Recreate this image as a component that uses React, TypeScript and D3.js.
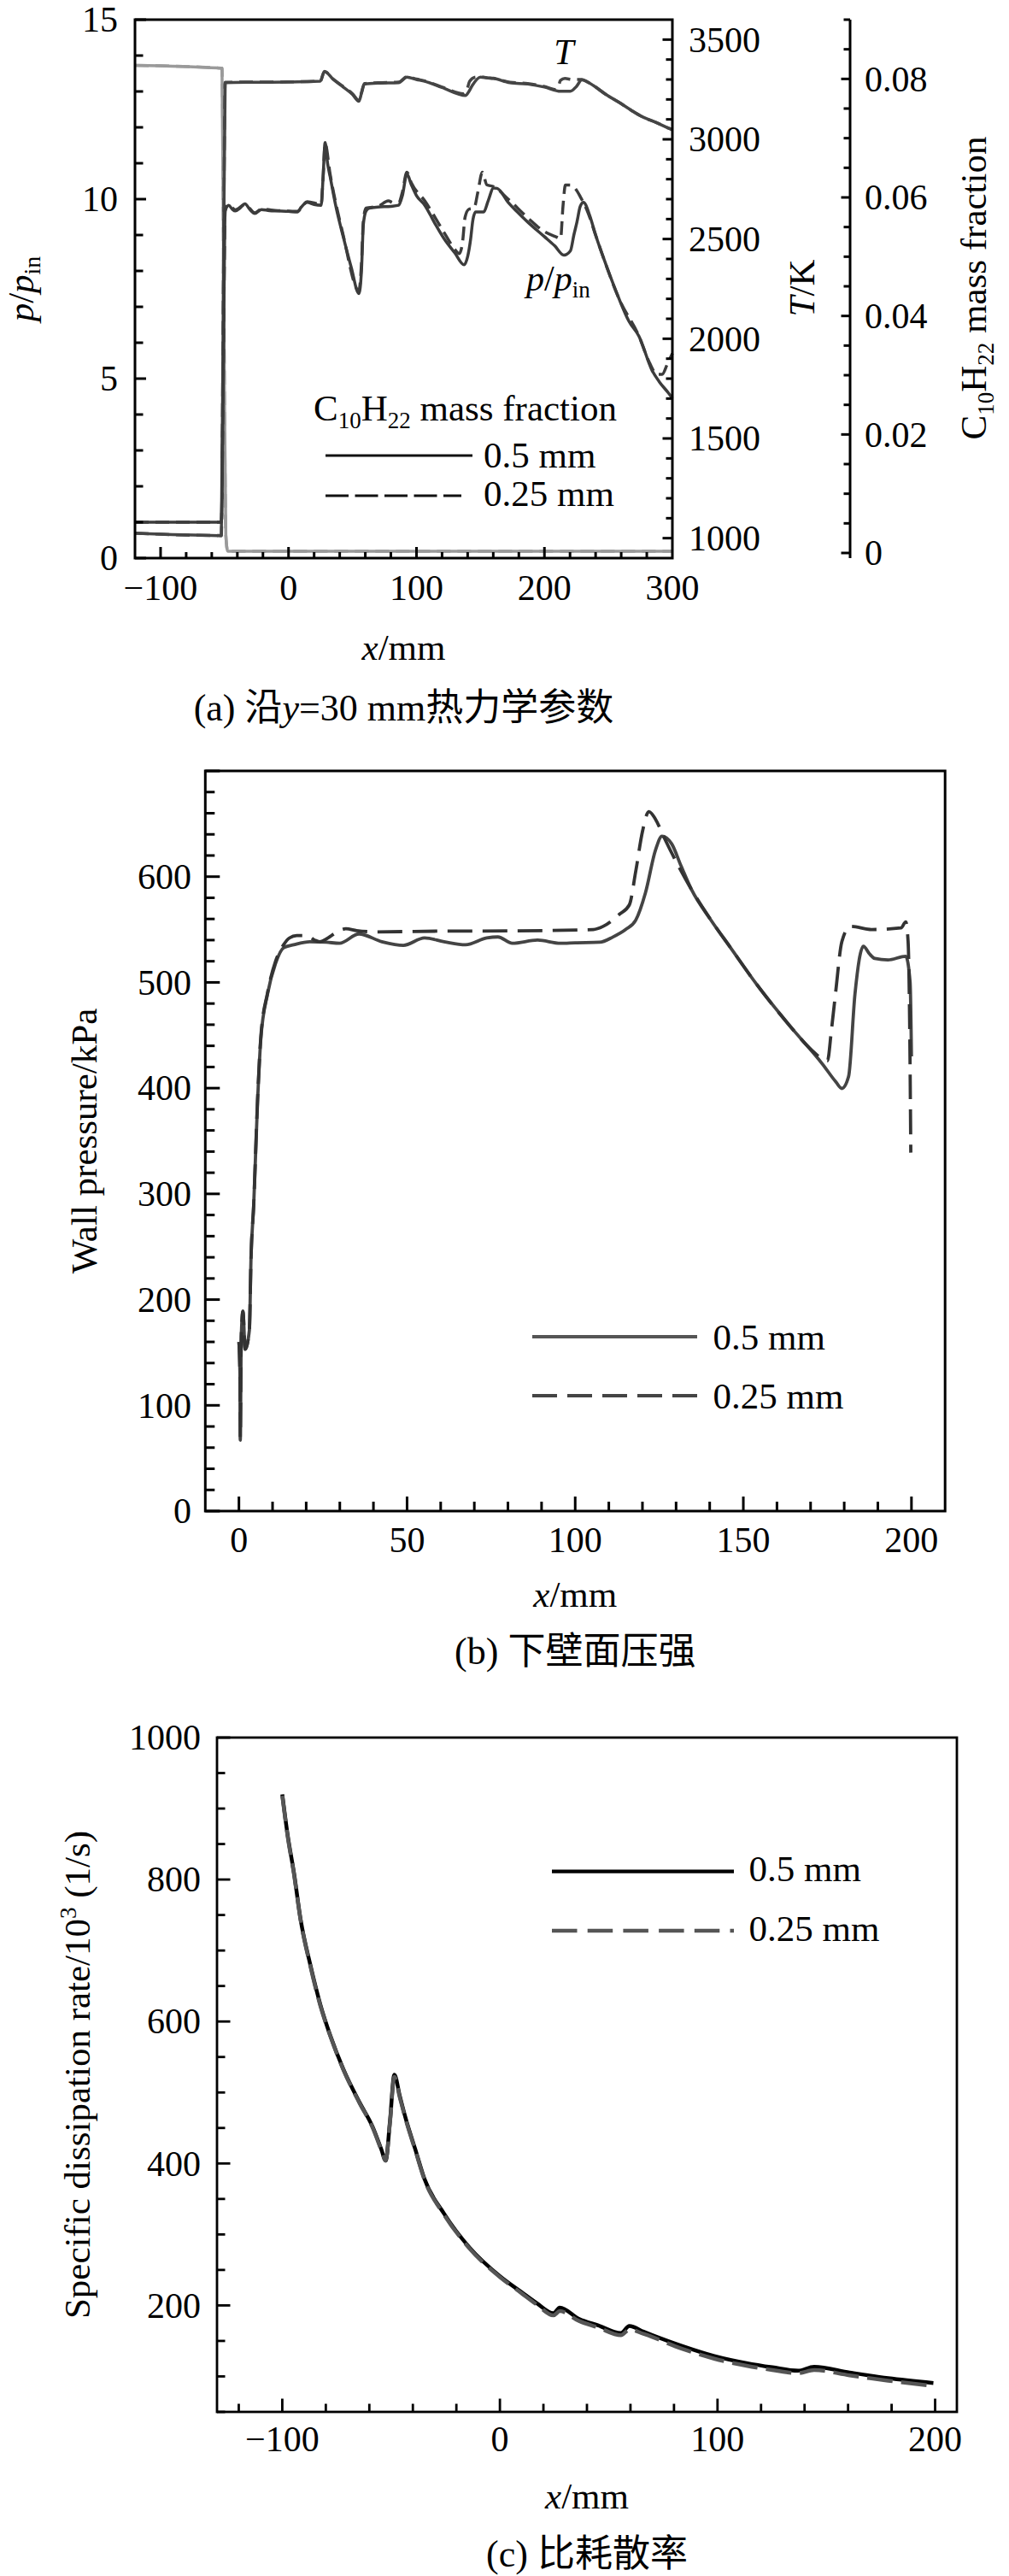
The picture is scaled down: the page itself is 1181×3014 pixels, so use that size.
import React from 'react';
import * as d3 from 'd3';

type Pt = [number, number];

const SERIF = "'Liberation Serif','Times New Roman',Times,serif";
const CAPF = "'Liberation Serif','Noto Sans CJK SC',serif";

// ---------- Panel (a): along y = 30 mm ----------
const aPressureSolid: Pt[] = [
  [-120, 1.0], [-52.5, 1.0], [-51, 5], [-49.5, 9.67], [-46.8, 9.83], [-44, 9.72], [-41.6, 9.67], [-38, 9.75],
  [-34, 9.87], [-30, 9.7], [-26.3, 9.6], [-21.2, 9.71], [-15, 9.68], [-8.4, 9.67], [0, 9.66], [6.9, 9.64],
  [10, 9.78], [14.6, 9.91], [20, 9.85], [25.5, 9.83], [27, 10.6], [28.6, 11.58], [30.5, 11.0], [32.5, 10.63],
  [37, 9.8], [42.7, 8.96], [49, 8.1], [55, 7.37], [57, 8.0], [58.5, 9.3], [60.6, 9.67], [63.1, 9.75], [70, 9.78],
  [80, 9.8], [86.1, 9.83], [89, 10.1], [92.5, 10.7], [96, 10.4], [100, 10.1], [106.5, 9.83], [114, 9.35],
  [121.9, 8.88], [130, 8.5], [137.2, 8.17], [140, 8.4], [142.3, 8.88], [144, 9.4], [146.2, 9.64], [152.5, 9.64],
  [156, 9.95], [160.2, 10.31], [163, 10.3], [171.7, 9.91], [180, 9.6], [187, 9.36], [199.8, 8.96], [208, 8.7],
  [215.2, 8.44], [220.3, 8.56], [223, 9.0], [225.4, 9.36], [228, 9.8], [230.5, 9.91], [235.6, 9.52], [240, 9.0],
  [245.8, 8.4], [252, 7.8], [258.6, 7.2], [266, 6.6], [273.9, 6.18], [284.1, 5.23], [290, 4.9], [296.9, 4.6], [300, 4.45],
];
const aPressureDashed: Pt[] = [
  [-120, 1.0], [-52.5, 1.0], [-51, 5], [-49.5, 9.7], [-46.8, 9.85], [-41.6, 9.7], [-34, 9.85], [-26.3, 9.62],
  [-21.2, 9.72], [-8.4, 9.68], [6.9, 9.66], [14.6, 9.93], [25.5, 9.86], [27, 10.6], [28.6, 11.55], [32.5, 10.7],
  [42.7, 9.0], [55, 7.45], [57, 8.2], [58.5, 9.4], [60.6, 9.75], [70, 9.8], [78, 9.95], [82, 9.9], [86.1, 9.9],
  [89, 10.2], [92.5, 10.75], [96, 10.45], [106.5, 9.95], [121.9, 9.05], [130, 8.6], [133.4, 8.48], [136, 8.8],
  [138, 9.5], [141, 9.72], [145, 9.75], [148, 10.2], [151.5, 10.75], [155, 10.4], [160.2, 10.35], [171.7, 10.0],
  [187, 9.48], [199.8, 9.1], [209, 8.95], [212.6, 8.9], [214.5, 9.8], [216.4, 10.39], [220, 10.39], [224, 10.3],
  [228, 10.07], [234.3, 9.6], [240, 9.0], [245.8, 8.4], [258.6, 7.2], [273.9, 6.18], [282, 5.45], [288, 5.12],
  [292, 5.12], [296, 5.4], [300, 5.7],
];
const aTempSolid: Pt[] = [
  [-120, 1025], [-52.5, 1013], [-51, 2200], [-49.5, 3284], [-30, 3286], [0, 3287], [24.8, 3291], [28.1, 3341],
  [35, 3300], [42.7, 3262], [50, 3225], [55, 3191], [57, 3230], [59.3, 3277], [70, 3282], [86.1, 3284], [92.5, 3312],
  [100, 3300], [106.5, 3291], [120, 3260], [138.5, 3220], [141, 3240], [143.6, 3270], [150, 3312], [155, 3308],
  [160.2, 3305], [173, 3284], [187, 3277], [200, 3262], [212.6, 3241], [220.3, 3241], [225, 3265], [229.2, 3298],
  [233, 3290], [238.2, 3270], [248, 3225], [258.6, 3184], [268, 3145], [276.5, 3113], [287, 3085], [296.9, 3056], [300, 3048],
];
const aTempDashed: Pt[] = [
  [-120, 1025], [-52.5, 1013], [-51, 2200], [-49.5, 3286], [-30, 3287], [0, 3288], [24.8, 3292], [28.1, 3340],
  [35, 3302], [42.7, 3265], [50, 3228], [55, 3195], [57, 3235], [59.3, 3280], [70, 3284], [86.1, 3287], [92.5, 3314],
  [100, 3302], [106.5, 3293], [120, 3262], [137, 3228], [139.5, 3250], [141.5, 3290], [146, 3312], [150, 3314],
  [155, 3309], [160.2, 3306], [173, 3286], [187, 3280], [200, 3265], [208, 3250], [210.5, 3258], [212.5, 3295],
  [216, 3305], [222, 3300], [229.2, 3300], [233, 3290], [238.2, 3270], [248, 3225], [258.6, 3184], [268, 3145],
  [276.5, 3113], [287, 3085], [296.9, 3056], [300, 3048],
];
const aFuelSolid: Pt[] = [
  [-120, 0.0823], [-52, 0.0818], [-50.5, 0.04], [-49, 0.003], [-47.5, 0.0003], [300, 0.0003],
];
const aFuelDashed: Pt[] = [
  [-120, 0.0823], [-52, 0.0818], [-50.5, 0.04], [-49, 0.003], [-47.5, 0.0003], [300, 0.0003],
];
const aXTickLabels = [-100, 0, 100, 200, 300];
const aPTickLabels = [0, 5, 10, 15];
const aTTickLabels = [1000, 1500, 2000, 2500, 3000, 3500];
const aFuelTickLabels = [0, 0.02, 0.04, 0.06, 0.08];

// ---------- Panel (b): lower wall pressure ----------
const bWallSolid: Pt[] = [
  [0, 160], [0.3, 130], [0.4, 67], [0.7, 165], [1.2, 189], [1.85, 153], [3.1, 171], [3.6, 240], [4.4, 290],
  [5.55, 388], [6.5, 446], [8.5, 489], [10.9, 518], [13.3, 532.8], [16.3, 535.6], [21.1, 538.5], [26, 538],
  [29.9, 537], [35.7, 545.8], [42.5, 538.5], [48.9, 535], [55.2, 542], [61, 538.5], [67.4, 535.6], [73.7, 542],
  [77, 543], [81.3, 537], [88.8, 540], [95.6, 537], [100, 537.5], [107.3, 538], [111.2, 542.9], [115, 550],
  [118, 558.8], [120.9, 584.8], [123.9, 625.3], [125.8, 638.3], [128.7, 631], [131.5, 610], [134.6, 587.7],
  [140.4, 558.8], [146.2, 532.8], [154, 498], [163.8, 459], [173.5, 422.9], [177.5, 406], [179.3, 399.7],
  [181.3, 411], [183.2, 489], [185.7, 534.2], [187.5, 527], [189.1, 522.6], [193, 521.2], [198.3, 524.7],
  [199.6, 500], [200, 430],
];
const bWallDashed: Pt[] = [
  [0, 160], [0.3, 130], [0.4, 70], [0.7, 165], [1.2, 189], [1.85, 153], [3.1, 171], [3.6, 240], [4.4, 290],
  [5.55, 390], [6.5, 448], [8.5, 490], [10.9, 520], [13.3, 535.6], [15, 542], [17.2, 544.3], [20.2, 544.3],
  [22.5, 540], [24, 538.5], [26.5, 542], [28.9, 547.2], [31.8, 550.7], [35, 549], [40.6, 547.8], [60, 548.5],
  [81.3, 548.7], [105.4, 550], [108.3, 553], [113.2, 564.6], [116.1, 573.3], [118, 605], [120, 642.6],
  [121.9, 661.5], [123.9, 654.2], [126.3, 638], [128.7, 622.4], [134.6, 587.7], [140.4, 558.8], [146.2, 532.8],
  [154, 498], [163.8, 459], [170, 437], [175, 425.8], [176.2, 455], [177.4, 489], [179.3, 538.5], [181.8, 553],
  [188.1, 550], [196.9, 551.5], [198.3, 557.3], [199, 538.5], [199.5, 450], [199.8, 339],
];
const bXTickLabels = [0, 50, 100, 150, 200];
const bYTickLabels = [0, 100, 200, 300, 400, 500, 600];

// ---------- Panel (c): specific dissipation rate ----------
const cOmegaSolid: Pt[] = [
  [-100, 920], [-97.6, 864], [-94.6, 808.6], [-91.6, 744], [-87.1, 679.6], [-82.5, 623.7], [-78, 580.7],
  [-72, 533.4], [-64.5, 486], [-58.5, 451.7], [-54.5, 420], [-52.5, 404], [-50.5, 460], [-48.5, 525], [-46, 495],
  [-43.4, 464.6], [-38.9, 420], [-34.6, 377.7], [-25.7, 329.5], [-13.9, 281.3], [0, 241.2], [9.8, 219], [17, 203],
  [24.6, 189], [27.5, 197], [36.4, 181], [45, 172], [55.6, 161], [59.5, 171], [66, 163], [83.7, 143], [98.5, 128.8],
  [113.3, 118.8], [125.2, 112.8], [137, 108], [144.4, 113.6], [160.7, 105.5], [178.4, 97.5], [199.2, 90.7],
];
const cOmegaDashed: Pt[] = [
  [-100, 918], [-97.6, 862], [-94.6, 807], [-91.6, 743], [-87.1, 678], [-82.5, 622], [-78, 580], [-72, 532.5],
  [-64.5, 485], [-58.5, 450.5], [-54.5, 419], [-52.5, 404], [-50.5, 458], [-48.5, 522], [-46, 493], [-43.4, 463],
  [-38.9, 418.5], [-34.6, 376.5], [-25.7, 328], [-13.9, 280], [0, 240], [9.8, 217.5], [17, 201], [24.6, 186],
  [27.5, 192], [36.4, 178], [45, 169], [55.6, 158], [59.5, 166], [66, 160], [83.7, 139], [98.5, 125], [113.3, 115],
  [125.2, 109], [137, 104.5], [144.4, 109], [160.7, 101.5], [178.4, 94], [199.2, 86.5],
];
const cXTickLabels = [-100, 0, 100, 200];
const cYTickLabels = [200, 400, 600, 800, 1000];

const legendLabels = ['0.5 mm', '0.25 mm'];

const fmtMinus = (v: number) => (v < 0 ? '\u2212' + Math.abs(v) : String(v));

function Curve({ data, x, y, stroke, width, dash }: {
  data: Pt[]; x: d3.ScaleLinear<number, number>; y: d3.ScaleLinear<number, number>;
  stroke: string; width: number; dash?: string;
}) {
  const line = d3.line<Pt>().x(d => x(d[0])).y(d => y(d[1])).curve(d3.curveMonotoneX);
  return (
    <path d={line(data) || ''} fill="none" stroke={stroke} strokeWidth={width}
      strokeDasharray={dash} strokeLinejoin="round" strokeLinecap="butt" />
  );
}

function PanelA() {
  const x = d3.scaleLinear().domain([-120, 300]).range([158, 787]);
  const p = d3.scaleLinear().domain([0, 15]).range([653, 23]);
  const t = d3.scaleLinear().domain([900, 3600]).range([653, 23]);
  const m = d3.scaleLinear().domain([0, 0.09]).range([647, 23]);
  const [x0, x1] = x.range();
  const [yb, yt] = p.range();
  const fs = 42;
  return (
    <g fontFamily={SERIF} fill="#000">
      <Curve data={aFuelSolid} x={x} y={m} stroke="#9a9a9a" width={3.5} />
      <Curve data={aFuelDashed} x={x} y={m} stroke="#9a9a9a" width={3.5} dash="16,8" />
      <Curve data={aTempSolid} x={x} y={t} stroke="#454545" width={3.5} />
      <Curve data={aTempDashed} x={x} y={t} stroke="#454545" width={3.5} dash="16,8" />
      <Curve data={aPressureSolid} x={x} y={p} stroke="#3c3c3c" width={3.5} />
      <Curve data={aPressureDashed} x={x} y={p} stroke="#3c3c3c" width={3.5} dash="16,8" />

      <rect x={x0} y={yt} width={x1 - x0} height={yb - yt} fill="none" stroke="#000" strokeWidth={3} />
      {d3.range(0, 16).map(v => (
        <line key={'pt' + v} x1={x0} x2={x0 + (v % 5 === 0 ? 13 : 9.5)} y1={p(v)} y2={p(v)} stroke="#000" strokeWidth={3} />
      ))}
      {aPTickLabels.map(v => (
        <text key={'pl' + v} x={138} y={p(v)} dy="0.34em" textAnchor="end" fontSize={fs}>{v}</text>
      ))}
      {d3.range(-100, 300, 20).map(v => (
        <line key={'xt' + v} x1={x(v)} x2={x(v)} y1={yb} y2={yb - (v % 100 === 0 ? 13 : 7)} stroke="#000" strokeWidth={3} />
      ))}
      {aXTickLabels.map(v => (
        <text key={'xl' + v} x={x(v)} y={702} textAnchor="middle" fontSize={fs}>{fmtMinus(v)}</text>
      ))}
      {d3.range(1000, 3501, 100).map(v => (
        <line key={'tt' + v} x1={x1} x2={x1 - (v % 500 === 0 ? 11.5 : 7.5)} y1={t(v)} y2={t(v)} stroke="#000" strokeWidth={3} />
      ))}
      {aTTickLabels.map(v => (
        <text key={'tl' + v} x={806} y={t(v)} dy="0.34em" textAnchor="start" fontSize={fs}>{v}</text>
      ))}
      <line x1={995} x2={995} y1={yt} y2={yb} stroke="#000" strokeWidth={3} />
      {d3.range(0, 19).map(i => (
        <line key={'mt' + i} x1={995} x2={995 - (i % 4 === 0 ? 10.5 : 7.5)} y1={m(i * 0.005)} y2={m(i * 0.005)} stroke="#000" strokeWidth={3} />
      ))}
      {aFuelTickLabels.map(v => (
        <text key={'ml' + v} x={1012} y={m(v)} dy="0.34em" textAnchor="start" fontSize={fs}>{String(v)}</text>
      ))}

      {/* axis titles */}
      <text transform="translate(39,338) rotate(-90)" textAnchor="middle" fontSize={43}>
        <tspan fontStyle="italic">p</tspan>/<tspan fontStyle="italic">p</tspan>
        <tspan fontSize={28} dy={8}>in</tspan>
      </text>
      <text transform="translate(953,337) rotate(-90)" textAnchor="middle" fontSize={43}>
        <tspan fontStyle="italic">T</tspan>/K
      </text>
      <text transform="translate(1154,337) rotate(-90)" textAnchor="middle" fontSize={43}>
        C<tspan fontSize={27} dy={9}>10</tspan><tspan dy={-9}>H</tspan><tspan fontSize={27} dy={9}>22</tspan>
        <tspan dy={-9}>{' mass fraction'}</tspan>
      </text>

      {/* in-plot annotations */}
      <text x={660} y={75} textAnchor="middle" fontSize={42} fontStyle="italic">T</text>
      <text x={616} y={340} fontSize={42}>
        <tspan fontStyle="italic">p</tspan>/<tspan fontStyle="italic">p</tspan>
        <tspan fontSize={27} dy={8}>in</tspan>
      </text>

      {/* legend */}
      <text x={367} y={492} fontSize={43}>
        C<tspan fontSize={27} dy={9}>10</tspan><tspan dy={-9}>H</tspan><tspan fontSize={27} dy={9}>22</tspan>
        <tspan dy={-9}>{' mass fraction'}</tspan>
      </text>
      <line x1={381} x2={553} y1={533} y2={533} stroke="#111" strokeWidth={2.8} />
      <text x={566} y={547} fontSize={43}>{legendLabels[0]}</text>
      <line x1={381} x2={540} y1={580} y2={580} stroke="#111" strokeWidth={2.8} strokeDasharray="27,7.5" />
      <text x={566} y={592} fontSize={43}>{legendLabels[1]}</text>

      <text x={(x0 + x1) / 2} y={772} textAnchor="middle" fontSize={43}>
        <tspan fontStyle="italic">x</tspan>/mm
      </text>
      <text x={(x0 + x1) / 2} y={843} textAnchor="middle" fontSize={44} fontFamily={CAPF}>
        (a) 沿<tspan fontStyle="italic">y</tspan>=30 mm热力学参数
      </text>
    </g>
  );
}

function PanelB() {
  const x = d3.scaleLinear().domain([-10, 210]).range([240.3, 1106.2]);
  const y = d3.scaleLinear().domain([0, 700]).range([1768, 902]);
  const [x0, x1] = x.range();
  const [yb, yt] = y.range();
  const fs = 42;
  return (
    <g fontFamily={SERIF} fill="#000">
      <Curve data={bWallSolid} x={x} y={y} stroke="#444" width={3.8} />
      <Curve data={bWallDashed} x={x} y={y} stroke="#333" width={3.8} dash="29,12" />
      <rect x={x0} y={yt} width={x1 - x0} height={yb - yt} fill="none" stroke="#000" strokeWidth={3} />
      {d3.range(0, 701, 20).map(v => (
        <line key={'yt' + v} x1={x0} x2={x0 + (v % 100 === 0 ? 17 : 11)} y1={y(v)} y2={y(v)} stroke="#000" strokeWidth={3} />
      ))}
      {bYTickLabels.map(v => (
        <text key={'yl' + v} x={224} y={y(v)} dy="0.34em" textAnchor="end" fontSize={fs}>{v}</text>
      ))}
      {d3.range(0, 201, 10).map(v => (
        <line key={'xt' + v} x1={x(v)} x2={x(v)} y1={yb} y2={yb - (v % 50 === 0 ? 17 : 11)} stroke="#000" strokeWidth={3} />
      ))}
      {bXTickLabels.map(v => (
        <text key={'xl' + v} x={x(v)} y={1816} textAnchor="middle" fontSize={fs}>{v}</text>
      ))}
      <text transform="translate(113,1335) rotate(-90)" textAnchor="middle" fontSize={43}>Wall pressure/kPa</text>

      <line x1={623} x2={816} y1={1564} y2={1564} stroke="#555" strokeWidth={3.8} />
      <text x={834.5} y={1579} fontSize={43}>{legendLabels[0]}</text>
      <line x1={623} x2={816} y1={1633} y2={1633} stroke="#444" strokeWidth={3.8} strokeDasharray="29,12" />
      <text x={834.5} y={1648} fontSize={43}>{legendLabels[1]}</text>

      <text x={(x0 + x1) / 2} y={1880} textAnchor="middle" fontSize={43}>
        <tspan fontStyle="italic">x</tspan>/mm
      </text>
      <text x={(x0 + x1) / 2} y={1947} textAnchor="middle" fontSize={44} fontFamily={CAPF}>(b) 下壁面压强</text>
    </g>
  );
}

function PanelC() {
  const x = d3.scaleLinear().domain([-130, 210]).range([254, 1120]);
  const y = d3.scaleLinear().domain([50, 1000]).range([2822, 2033]);
  const [x0, x1] = x.range();
  const [yb, yt] = y.range();
  const fs = 42;
  return (
    <g fontFamily={SERIF} fill="#000">
      <Curve data={cOmegaSolid} x={x} y={y} stroke="#000" width={4.5} />
      <Curve data={cOmegaDashed} x={x} y={y} stroke="#555" width={4.5} dash="30,10" />
      <rect x={x0} y={yt} width={x1 - x0} height={yb - yt} fill="none" stroke="#000" strokeWidth={2.8} />
      {d3.range(50, 1001, 50).map(v => (
        <line key={'yt' + v} x1={x0} x2={x0 + (v % 200 === 0 ? 15.5 : 9.5)} y1={y(v)} y2={y(v)} stroke="#000" strokeWidth={2.8} />
      ))}
      {cYTickLabels.map(v => (
        <text key={'yl' + v} x={235} y={y(v)} dy="0.34em" textAnchor="end" fontSize={fs}>{v}</text>
      ))}
      {d3.range(-120, 201, 20).map(v => (
        <line key={'xt' + v} x1={x(v)} x2={x(v)} y1={yb} y2={yb - (v % 100 === 0 ? 15.5 : 9.5)} stroke="#000" strokeWidth={2.8} />
      ))}
      {cXTickLabels.map(v => (
        <text key={'xl' + v} x={x(v)} y={2868} textAnchor="middle" fontSize={fs}>{fmtMinus(v)}</text>
      ))}
      <text transform="translate(105,2427.5) rotate(-90)" textAnchor="middle" fontSize={43}>
        Specific dissipation rate/10<tspan fontSize={27} dy={-16}>3</tspan><tspan dy={16}>{' (1/s)'}</tspan>
      </text>

      <line x1={646} x2={859} y1={2189.6} y2={2189.6} stroke="#000" strokeWidth={4.3} />
      <text x={876.6} y={2201} fontSize={43}>{legendLabels[0]}</text>
      <line x1={646} x2={859} y1={2259} y2={2259} stroke="#555" strokeWidth={4.3} strokeDasharray="29.5,12.2" />
      <text x={876.6} y={2271} fontSize={43}>{legendLabels[1]}</text>

      <text x={(x0 + x1) / 2} y={2935} textAnchor="middle" fontSize={43}>
        <tspan fontStyle="italic">x</tspan>/mm
      </text>
      <text x={(x0 + x1) / 2} y={3003} textAnchor="middle" fontSize={44} fontFamily={CAPF}>(c) 比耗散率</text>
    </g>
  );
}

export default function App() {
  return (
    <svg width={1181} height={3014} viewBox="0 0 1181 3014"
      style={{ position: 'absolute', left: 0, top: 0, background: '#fff' }}>
      <rect x={0} y={0} width={1181} height={3014} fill="#fff" />
      <PanelA />
      <PanelB />
      <PanelC />
    </svg>
  );
}
